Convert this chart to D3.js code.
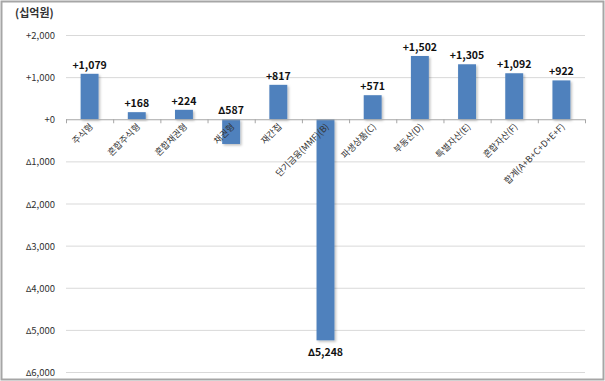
<!DOCTYPE html>
<html>
<head>
<meta charset="utf-8">
<script src="https://cdn.jsdelivr.net/npm/d3@7"></script>
<style>
  body { margin: 0; background: #fff; }
  svg { display: block; font-family: "Noto Sans CJK KR", "Malgun Gothic", sans-serif; }
  .tri { font-family: "DejaVu Sans", sans-serif; }
</style>
</head>
<body>
<svg id="chart" width="605" height="381"></svg>
<script>
const categories = ["주식형", "혼합주식형", "혼합채권형", "채권형", "재간접", "단기금융(MMF)(B)",
  "파생상품(C)", "부동산(D)", "특별자산(E)", "혼합자산(F)", "합계(A+B+C+D+E+F)"];
const values = [1079, 168, 224, -587, 817, -5248, 571, 1502, 1305, 1092, 922];
const yTicks = [2000, 1000, 0, -1000, -2000, -3000, -4000, -5000, -6000];

const svg = d3.select("#chart");
const width = +svg.attr("width");
const height = +svg.attr("height");

const fmt = d3.format(",");
// negative numbers are written with a small triangle, Korean style
function signed(sel, v, triSize) {
  if (v < 0) {
    sel.append("tspan").attr("class", "tri").attr("font-size", triSize).text("\u2206");
    sel.append("tspan").text(fmt(-v));
  } else {
    sel.text("+" + fmt(v));
  }
}

// outer frame
svg.append("rect")
  .attr("x", 1.5).attr("y", 1.5)
  .attr("width", width - 3).attr("height", height - 3)
  .attr("fill", "none").attr("stroke", "#a6a6a6").attr("stroke-width", 2);

const x = d3.scaleBand().domain(categories).range([66, 585]).paddingInner(0.62).paddingOuter(0.31);
const y = d3.scaleLinear().domain([-6000, 2000]).range([372, 35]);

svg.append("text")
  .attr("x", 15).attr("y", 17)
  .attr("font-size", 11).attr("font-weight", "bold").attr("fill", "#333")
  .text("(십억원)");

// gridlines
svg.append("g")
  .selectAll("line")
  .data(yTicks.filter(d => d !== 0))
  .join("line")
  .attr("x1", 66).attr("x2", 585)
  .attr("y1", d => y(d) + 0.5).attr("y2", d => y(d) + 0.5)
  .attr("stroke", "#d9d9d9");

// y labels
svg.append("g")
  .selectAll("text")
  .data(yTicks)
  .join("text")
  .attr("x", 55).attr("y", d => y(d) + 4)
  .attr("text-anchor", "end")
  .attr("font-size", 9.5).attr("fill", "#333")
  .each(function(d) { signed(d3.select(this), d, 8); });

// shadow filter
const defs = svg.append("defs");
const f = defs.append("filter").attr("id", "sh").attr("x", "-20%").attr("y", "-20%").attr("width", "150%").attr("height", "150%");
f.append("feDropShadow").attr("dx", 1.5).attr("dy", 1.5).attr("stdDeviation", 1).attr("flood-color", "#000").attr("flood-opacity", 0.25);

// bars
svg.append("g")
  .selectAll("rect")
  .data(values)
  .join("rect")
  .attr("x", (d, i) => x(categories[i]))
  .attr("width", x.bandwidth())
  .attr("y", d => y(Math.max(0, d)))
  .attr("height", d => Math.abs(y(d) - y(0)))
  .attr("fill", "#4f81bd")
  .attr("filter", "url(#sh)");

// zero axis with ticks
const axis = svg.append("g");
axis.append("line")
  .attr("x1", 66).attr("x2", 585)
  .attr("y1", y(0) + 0.5).attr("y2", y(0) + 0.5)
  .attr("stroke", "#a6a6a6");
const step = x.step();
axis.selectAll("line.t")
  .data(d3.range(categories.length + 1))
  .join("line")
  .attr("class", "t")
  .attr("x1", i => 66 + i * step + 0.5).attr("x2", i => 66 + i * step + 0.5)
  .attr("y1", y(0)).attr("y2", y(0) + 4)
  .attr("stroke", "#a6a6a6");

// category labels
svg.append("g")
  .selectAll("text")
  .data(categories)
  .join("text")
  .attr("transform", d => `translate(${x(d) + x.bandwidth() / 2 + 4},${y(0) + 8}) rotate(-45)`)
  .attr("text-anchor", "end")
  .attr("font-size", 9).attr("fill", "#333")
  .text(d => d);

// value labels
svg.append("g")
  .selectAll("text")
  .data(values)
  .join("text")
  .attr("x", (d, i) => x(categories[i]) + x.bandwidth() / 2)
  .attr("y", d => {
    if (d >= 0) return y(d) - 5;
    if (d < -3000) return y(d) + 16;
    return y(0) - 5;
  })
  .attr("text-anchor", "middle")
  .attr("font-size", 10.5).attr("font-weight", "bold").attr("fill", "#111")
  .each(function(d) { signed(d3.select(this), d, 10); });
</script>
</body>
</html>
